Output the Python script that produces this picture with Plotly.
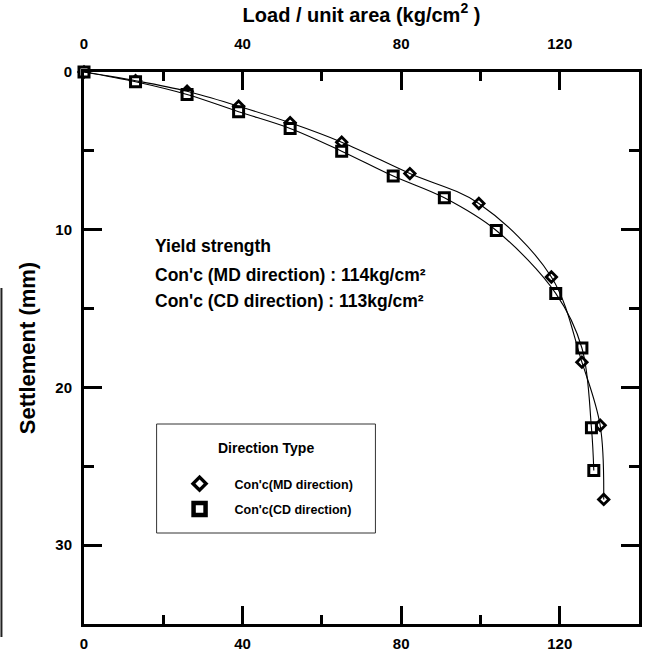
import plotly.graph_objects as go

# Plate load test: load per unit area vs settlement
md_load = [0, 13, 26, 39, 52, 65, 82.2, 99.6, 117.9, 125.6, 130.2, 131.1]
md_settle = [0, 0.55, 1.22, 2.17, 3.22, 4.45, 6.44, 8.34, 13.0, 18.4, 22.4, 27.1]
cd_load = [0, 13, 26, 39, 52, 65, 78.0, 90.9, 104.0, 119.0, 125.6, 128.0, 128.6]
cd_settle = [0, 0.62, 1.43, 2.52, 3.58, 5.02, 6.6, 7.98, 10.05, 14.04, 17.5, 22.56, 25.27]

x_ticks = [0, 40, 80, 120]
y_ticks = [0, 10, 20, 30]
series_names = ["Con'c(MD direction)", "Con'c(CD direction)"]
legend_title = "Direction Type"
yield_lines = ["Yield strength",
               "Con'c (MD direction) : 114kg/cm²",
               "Con'c (CD direction) : 113kg/cm²"]

FONT = "Liberation Sans, Arial, sans-serif"
bold = lambda s: dict(family=FONT, size=s, color="black", weight="bold")

fig = go.Figure()

# smooth curves through the measured points
for xs, ys in [(md_load, md_settle), (cd_load, cd_settle)]:
    fig.add_trace(go.Scatter(x=xs, y=ys, mode="lines", xaxis="x2",
                             line=dict(color="black", width=1.1, shape="spline", smoothing=1.0),
                             showlegend=False, hoverinfo="skip"))

# measured points
fig.add_trace(go.Scatter(x=md_load, y=md_settle, mode="markers", showlegend=False,
                         cliponaxis=False,
                         marker=dict(symbol="diamond", size=8, color="white",
                                     line=dict(color="black", width=2.8))))
fig.add_trace(go.Scatter(x=cd_load, y=cd_settle, mode="markers", showlegend=False,
                         cliponaxis=False,
                         marker=dict(symbol="square", size=10, color="white",
                                     line=dict(color="black", width=3))))

# legend entries
fig.add_trace(go.Scatter(x=[None], y=[None], mode="markers", name=series_names[0],
                         legendgroup="md",
                         marker=dict(symbol="diamond", size=10, color="white",
                                     line=dict(color="black", width=3.5))))
fig.add_trace(go.Scatter(x=[None], y=[None], mode="markers", name=series_names[1],
                         legendgroup="cd",
                         marker=dict(symbol="square", size=12, color="white",
                                     line=dict(color="black", width=4.5))))

axis_common = dict(
    showline=True, linewidth=3, linecolor="black",
    showgrid=False, zeroline=False,
    ticks="inside", tickwidth=3, tickcolor="black",
    tickfont=bold(15),
)

fig.update_layout(
    width=645, height=655,
    margin=dict(l=84, r=3, t=72, b=31),
    paper_bgcolor="white", plot_bgcolor="white",
    xaxis=dict(range=[0, 140], tickvals=x_ticks, ticklen=18,
               minor=dict(dtick=20, tick0=0, ticks="inside", ticklen=9, tickwidth=3, tickcolor="black"),
               ticklabelstandoff=4, **axis_common),
    xaxis2=dict(range=[0, 140], tickvals=x_ticks, ticklen=18, overlaying="x", side="top",
                minor=dict(dtick=20, tick0=0, ticks="inside", ticklen=9, tickwidth=3, tickcolor="black"),
                ticklabelstandoff=14,
                title=dict(text="Load / unit area (kg/cm<sup>2</sup> )", font=bold(20), standoff=8),
                **axis_common),
    yaxis=dict(range=[35, 0], tickvals=y_ticks, ticklen=18, mirror="ticks",
               minor=dict(dtick=5, tick0=0, ticks="inside", ticklen=10, tickwidth=3, tickcolor="black"),
               ticklabelstandoff=6,
               title=dict(text="Settlement (mm)", font=bold(22), standoff=14),
               **axis_common),
    legend=dict(x=(165 - 84) / 558, y=(624 - 469) / 552, xanchor="left", yanchor="top",
                bgcolor="rgba(0,0,0,0)", borderwidth=0,
                font=bold(12.5), itemwidth=60, traceorder="grouped", tracegroupgap=6),
)

# legend frame and heading
fig.add_shape(type="rect", xref="paper", yref="paper",
              x0=(157 - 84) / 558, x1=(377 - 84) / 558,
              y0=(624 - 533) / 552, y1=(624 - 424) / 552,
              line=dict(color="#333", width=1), fillcolor="rgba(0,0,0,0)")
fig.add_annotation(text=legend_title, xref="paper", yref="paper",
                   x=(267 - 84) / 558, y=(624 - 448) / 552,
                   xanchor="center", yanchor="middle", showarrow=False, font=bold(14))

# yield strength note
for txt, ypix in zip(yield_lines, [246, 275, 301]):
    fig.add_annotation(text=txt, xref="paper", yref="paper",
                       x=(153 - 84) / 558, y=(624 - ypix) / 552,
                       xanchor="left", yanchor="middle", showarrow=False,
                       font=bold(17.5))

# page edge
fig.add_shape(type="line", xref="paper", yref="paper",
              x0=-83 / 558, x1=-83 / 558, y0=(624 - 288) / 552, y1=(624 - 637) / 552,
              line=dict(color="#222", width=2))

fig.write_html("out.html")
